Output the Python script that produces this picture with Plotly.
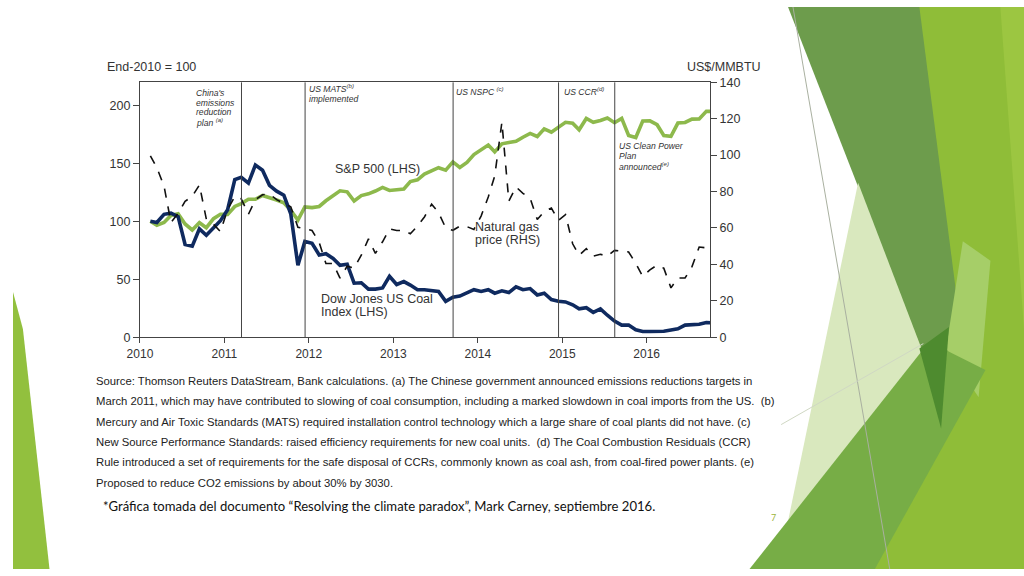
import plotly.graph_objects as go
import pandas as pd

W, H = 1024, 576

# ---------------- data (monthly) ----------------
months = pd.date_range("2010-01-15", periods=81, freq="MS") + pd.Timedelta(days=14)

sp500 = [100, 96.5, 99, 105, 106.5, 97.7, 92.5, 98.8, 94.5, 102.3, 106, 106,
         112.8, 115.3, 119, 119, 122.3, 120.6, 118.4, 116, 109.5, 101, 112.4, 111.8,
         112.8, 117.7, 122.5, 126.3, 125.4, 117.5, 122.2, 123.7, 126.1, 129.2, 126.6, 127,
         127.9, 134.3, 135.8, 140.7, 143.3, 146.2, 144.1, 151.2, 146.4, 150.8, 157.5, 161.9,
         165.8, 159.9, 166.8, 167.9, 168.9, 172.5, 175.8, 173.1, 179.7, 176.9, 181, 185.4,
         184.6, 178.9, 188.7, 185.4, 187, 189, 185, 188.7, 174, 172.2, 186.5, 186.6,
         183.3, 174, 173.3, 184.7, 185.2, 188.1, 188.2, 194.9, 194.7]

coal = [100, 99, 106, 107, 104, 80, 78.5, 93.5, 88, 94.4, 100.5, 110,
        136, 138, 133, 148.5, 144, 131, 126, 122.5, 106.5, 62, 82.6, 81,
        71, 72, 68, 62, 63, 46.6, 47, 41.5, 41.5, 42.5, 52.5, 45.5,
        48, 45, 41, 41, 40.5, 39.5, 31, 34.5, 35.5, 38, 41, 39.5,
        41, 38, 40, 38.5, 43.5, 41, 42, 36.5, 38, 32.5, 31, 30.5,
        28, 24.5, 25.5, 21.5, 24.5, 19, 14, 10.5, 10.5, 6.5, 5, 5,
        5, 5.2, 6.3, 7.3, 10.5, 10.5, 11.2, 12.7, 12.5]

gas = [99.6, 93, 83, 63, 68, 74.6, 77.3, 83.6, 64.8, 62, 58, 70,
       77.3, 76, 67.5, 75.5, 78.2, 78.7, 75.5, 73.4, 71.6, 60.4, 59.5, 58.6,
       52, 40.5, 40.5, 32.5, 39, 38, 45, 54, 46, 52.4, 59.5, 58.6,
       58.6, 56.8, 61, 66, 73, 68.5, 60, 58.7, 61, 60.7, 59.2, 66.5,
       77, 88.5, 118, 74.7, 82.5, 79, 76.3, 64.6, 69, 70.9, 64.1, 67.3,
       51.3, 45, 48.6, 44.5, 45.5, 44.5, 47.7, 47.3, 46.8, 40.5, 33.4, 37,
       39.6, 37.9, 27.1, 32.5, 32.5, 38.75, 49.5, 49.1, 50]

year_ticks = ["2010-01-01", "2011-01-01", "2012-01-01", "2013-01-01",
              "2014-01-01", "2015-01-01", "2016-01-01"]
year_labels = ["2010", "2011", "2012", "2013", "2014", "2015", "2016"]
left_ticks = [0, 50, 100, 150, 200]
right_ticks = [0, 20, 40, 60, 80, 100, 120, 140]

event_dates = ["2011-03-16", "2011-12-16", "2013-09-16", "2014-12-16", "2015-08-16"]

source_lines = [
    "Source: Thomson Reuters DataStream, Bank calculations. (a) The Chinese government announced emissions reductions targets in",
    "March 2011, which may have contributed to slowing of coal consumption, including a marked slowdown in coal imports from the US.  (b)",
    "Mercury and Air Toxic Standards (MATS) required installation control technology which a large share of coal plants did not have. (c)",
    "New Source Performance Standards: raised efficiency requirements for new coal units.  (d) The Coal Combustion Residuals (CCR)",
    "Rule introduced a set of requirements for the safe disposal of CCRs, commonly known as coal ash, from coal-fired power plants. (e)",
    "Proposed to reduce CO2 emissions by about 30% by 3030.",
]

# ---------------- layout helpers (page pixels -> paper fractions) ----------------
def px(x):
    return x / W

def py(y):
    return 1 - y / H

PL, PR, PT, PB = 128.6, 706, 77, 338.5
FONT = "Liberation Sans, Arial, sans-serif"

fig = go.Figure()

fig.add_trace(go.Scatter(x=months, y=gas, yaxis="y2", mode="lines",
                         line=dict(color="#111111", width=1.6, dash="dash"),
                         name="Natural gas price (RHS)"))
fig.add_trace(go.Scatter(x=months, y=sp500, mode="lines",
                         line=dict(color="#8DB94C", width=3.6),
                         name="S&P 500 (LHS)"))
fig.add_trace(go.Scatter(x=months, y=coal, mode="lines",
                         line=dict(color="#0F2A5F", width=3.6),
                         name="Dow Jones US Coal Index (LHS)"))

shapes = []
def poly(points, color, opacity=1.0):
    path = "M " + " L ".join(f"{px(x):.4f},{py(y):.4f}" for x, y in points) + " Z"
    return dict(type="path", xref="paper", yref="paper", path=path,
                fillcolor=color, line=dict(width=0), opacity=opacity, layer="below")

shapes += [
    poly([(915, 0), (1024, 0), (1024, 576), (860, 576)], "#8FBD38"),
    poly([(1000, 0), (1024, 0), (1024, 330)], "#9CC641"),
    poly([(785, 0), (918, 0), (960, 330), (936, 392)], "#6D9C4C"),
    poly([(962, 240), (990, 260), (978, 400), (945, 350)], "#A6CE68"),
    poly([(856, 180), (936, 392), (800, 576), (775, 576)], "#D9E8BE"),
    poly([(746, 576), (928, 343), (985, 372), (873, 576)], "#77AD46"),
    poly([(918, 350), (948, 328), (940, 432)], "#4E8B2F"),
    poly([(0, 292), (10, 330), (37, 576), (0, 576)], "#92C03E"),
]
shapes += [
    dict(type="line", xref="paper", yref="paper", x0=px(790), y0=py(0), x1=px(888), y1=py(576),
         line=dict(color="#A9B0A0", width=1), layer="below"),
    dict(type="line", xref="paper", yref="paper", x0=px(778), y0=py(428), x1=px(922), y1=py(345),
         line=dict(color="#D0D8C4", width=1), layer="below"),
]
for d in event_dates:
    shapes.append(dict(type="line", xref="x", yref="y", x0=d, x1=d, y0=0, y1=220,
                       line=dict(color="#444444", width=1)))

ann = []
def text(x, y, s, size=12, color="#333333", family=FONT, xanchor="left", yanchor="middle",
         style="normal"):
    ann.append(dict(x=px(x), y=py(y), xref="paper", yref="paper", text=s, showarrow=False,
                    xanchor=xanchor, yanchor=yanchor, align="left",
                    font=dict(size=size, color=color, family=family, style=style)))

text(93, 62, "End-2010 = 100", 12.5)
text(760, 62, "US$/MMBTU", 12.5, xanchor="right")

EV = 8.6
text(183, 88, "China's", EV, style="italic")
text(183, 98, "emissions", EV, style="italic")
text(183, 108, "reduction", EV, style="italic")
text(183, 118, "plan <sup>(a)</sup>", EV, style="italic")
text(298, 84, "US MATS<sup>(b)</sup>", EV, style="italic")
text(298, 94, "implemented", EV, style="italic")
text(447, 87, "US NSPC <sup>(c)</sup>", EV, style="italic")
text(556, 87, "US CCR<sup>(d)</sup>", EV, style="italic")
text(612, 142, "US Clean Power", EV, style="italic")
text(612, 152.5, "Plan", EV, style="italic")
text(612, 163, "announced<sup>(e)</sup>", EV, style="italic")

text(324, 166, "S&P 500 (LHS)", 12.5)
text(466, 225, "Natural gas", 12.5)
text(466, 239, "price (RHS)", 12.5)
text(310, 299, "Dow Jones US Coal", 12.5)
text(310, 313, "Index (LHS)", 12.5)

for k, line in enumerate(source_lines):
    text(82, 383.5 + k * 20.8, line, 11.3, color="#222222", family=FONT)

text(89, 511, "*Gráfica tomada del documento “Resolving the climate paradox”, Mark Carney, septiembre 2016.",
     13.1, color="#111111", family="Lato, Open Sans, sans-serif")
text(766, 523, "7", 9, color="#9BB43C", family="Lato, sans-serif")

fig.update_layout(
    width=W, height=H,
    margin=dict(l=0, r=0, t=0, b=0),
    paper_bgcolor="white", plot_bgcolor="rgba(0,0,0,0)",
    showlegend=False,
    shapes=shapes, annotations=ann,
    font=dict(family=FONT, size=12, color="#333333"),
    xaxis=dict(domain=[px(PL), px(PR)], range=["2010-01-01", "2016-10-01"],
               tickvals=year_ticks, ticktext=year_labels, ticks="outside", ticklen=5,
               tickcolor="#444444", showline=True, linecolor="#444444", linewidth=1,
               mirror=True, showgrid=False, zeroline=False,
               tickfont=dict(size=12, color="#333333")),
    yaxis=dict(domain=[py(PB), py(PT)], range=[0, 220], tickvals=left_ticks,
               ticks="outside", ticklen=6, tickcolor="#444444", showline=True,
               linecolor="#444444", linewidth=1, showgrid=False, zeroline=False,
               tickfont=dict(size=12.5, color="#333333")),
    yaxis2=dict(domain=[py(PB), py(PT)], range=[0, 140], tickvals=right_ticks,
                overlaying="y", side="right", anchor="x",
                ticks="outside", ticklen=6, tickcolor="#444444", showline=True,
                linecolor="#444444", linewidth=1, showgrid=False, zeroline=False,
                tickfont=dict(size=12.5, color="#333333")),
)

fig.write_html("out.html", include_plotlyjs=True, config={"displayModeBar": False},
               post_script="document.body.style.margin='0';document.body.style.overflow='hidden';")
